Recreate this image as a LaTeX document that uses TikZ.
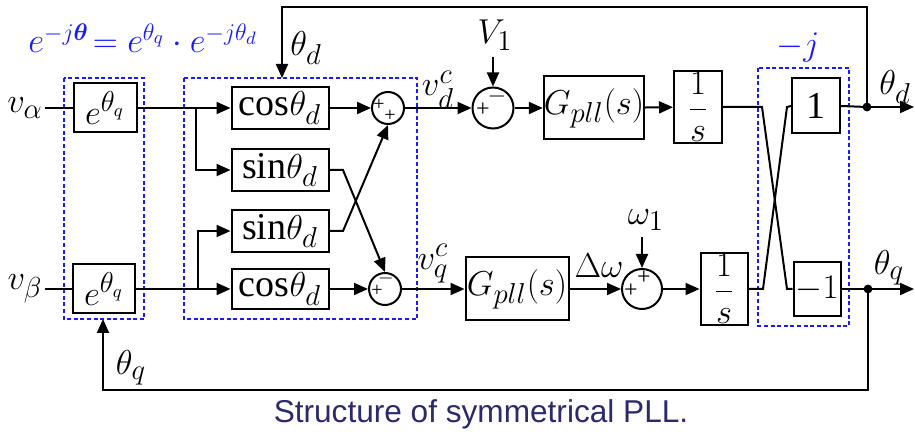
\documentclass[tikz,border=0pt]{standalone}
\usepackage{amsmath}
\usepackage{fontspec}
\setmainfont{Liberation Serif}
\newfontfamily\capfont{Liberation Sans}
\definecolor{pllBlue}{HTML}{1A1AFF}
\definecolor{pllNavy}{HTML}{2B2A6B}
\usetikzlibrary{arrows.meta, positioning, calc}

\begin{document}
\begin{tikzpicture}[
    x=0.5pt, y=-0.5pt,
    font=\fontsize{19}{22}\selectfont,
    block/.style={draw, line width=1pt, inner sep=0pt, align=center},
    sumnode/.style={circle, draw, line width=1pt, inner sep=0pt},
    sgn/.style={inner sep=0pt, font=\fontsize{12}{12}\selectfont},
    smallsgn/.style={sgn, font=\fontsize{10}{10}\selectfont},
    lbl/.style={inner sep=0pt},
    grp/.style={draw=pllBlue, line width=1.1pt, dash pattern=on 2pt off 1.3pt},
    arr/.style={-{Triangle[length=7pt,width=6pt]}, line width=1pt},
    wire/.style={line width=1pt},
  ]
  \useasboundingbox (0,0) rectangle (915,432);

  % dashed groups
  \draw[grp] (64,78) rectangle (144,319);
  \draw[grp] (184,78) rectangle (417,319);
  \draw[grp] (758,68) rectangle (849,326);

  % rotation blocks
  \node[block, minimum width=31.5pt, minimum height=24.5pt] (ea) at (105,108) {$e^{\theta_q}$};
  \node[block, minimum width=31pt, minimum height=24.5pt] (eb) at (104,289) {$e^{\theta_q}$};
  \node[block, minimum width=48.5pt, minimum height=21pt] (c1) at (280,108) {cos$\theta_d$};
  \node[block, minimum width=48.5pt, minimum height=21pt] (s1) at (280,170) {sin$\theta_d$};
  \node[block, minimum width=48.5pt, minimum height=21pt] (s2) at (280,231) {sin$\theta_d$};
  \node[block, minimum width=48.5pt, minimum height=20pt] (c2) at (280,289) {cos$\theta_d$};

  % summing points
  \node[sumnode, minimum size=16pt] (sa) at (388,108) {};
  \node[sumnode, minimum size=16pt] (sb) at (385,289) {};
  \node[sumnode, minimum size=20.5pt] (sc) at (493,108) {};
  \node[sumnode, minimum size=20pt] (sd) at (642,289) {};
  \node[smallsgn] (sa-p1) at (379,105) {+};
  \node[smallsgn] (sa-p2) at (390,116) {+};
  \node[smallsgn] (sb-p) at (377,291) {+};
  \node[smallsgn] (sb-m) at (386,279) {$-$};
  \node[sgn] (sc-p) at (483,110) {+};
  \node[sgn] (sc-m) at (497,97) {$-$};
  \node[sgn] (sd-p1) at (631,291) {+};
  \node[sgn] (sd-p2) at (644,278) {+};

  % loop filters and integrators
  \node[block, minimum width=50pt, minimum height=31.5pt] (ga) at (594,108) {$G_{pll}(s)$};
  \node[block, minimum width=51.5pt, minimum height=31.5pt] (gb) at (517,289) {$G_{pll}(s)$};
  \node[block, minimum width=24pt, minimum height=36pt] (ia) at (698,107) {$\dfrac{1}{s}$};
  \node[block, minimum width=23.5pt, minimum height=36pt] (ib) at (724,289) {$\dfrac{1}{s}$};
  \node[block, minimum width=24pt, minimum height=27.5pt] (one) at (816,106) {1};
  \node[block, minimum width=23.5pt, minimum height=27pt] (mone) at (817,289) {$-1$};

  % labels
  \node[inner sep=1pt] (va) at (25,108) {$v_\alpha$};
  \node[inner sep=1pt] (vb) at (25,289) {$v_\beta$};
  \node[lbl] (lvd) at (438,90) {$v_d^c$};
  \node[lbl] (lvq) at (433,264) {$v_q^c$};
  \node[lbl] (v1) at (495,35) {$V_1$};
  \node[lbl] (w1) at (646,220) {$\omega_1$};
  \node[lbl] (ldw) at (599,266) {$\Delta\omega$};
  \node[lbl] (ltd) at (306,48) {$\theta_d$};
  \node[lbl] (ltq) at (131,368) {$\theta_q$};
  \node[lbl] (otd) at (895,87) {$\theta_d$};
  \node[lbl] (otq) at (889,268) {$\theta_q$};
  \node[lbl, text=pllBlue] (lmj) at (798,48) {$-j$};
  \node[lbl, text=pllBlue, font=\fontsize{17.5}{20}\selectfont] (eqn) at (143,38) {$e^{-j\boldsymbol{\theta}}\! = e^{\theta_q}\cdot e^{-j\theta_d}$};
  \node[font=\capfont\fontsize{15.8}{18}\selectfont, text=pllNavy] (cap) at (481,414) {Structure of symmetrical PLL.};

  % helper points
  \coordinate (b1) at (196,108);
  \coordinate (b2) at (198,289);
  \coordinate (k1) at (343,170);
  \coordinate (k2) at (343,231);
  \coordinate (x1) at (762,107);
  \coordinate (x2) at (787,289);
  \coordinate (x3) at (763,289);
  \coordinate (x4) at (787,107);
  \coordinate (td) at (867,107);
  \coordinate (tq) at (868,289);
  \coordinate (outd) at (914,107);
  \coordinate (outq) at (914,289);
  \coordinate (fbtop) at (282,7);
  \coordinate (gin) at (282,78);
  \coordinate (fbbot) at (103,390);
  \coordinate (gqin) at (103,319);

  % alpha branch
  \draw[wire] (va.east) -- (ea.west);
  \draw[wire] (ea) -- (b1);
  \draw[arr] (b1) -- (c1);
  \draw[arr] (b1) |- (s1);
  % beta branch
  \draw[wire] (vb.east) -- (eb.west);
  \draw[wire] (eb) -- (b2);
  \draw[arr] (b2) -- (c2);
  \draw[arr] (b2) |- (s2);
  % cross coupling
  \draw[arr] (c1) -- (sa);
  \draw[arr] (c2) -- (sb);
  \draw[arr] (s1.east) -- (k1) -- (sb.north);
  \draw[arr] (s2.east) -- (k2) -- (sa.south);

  % d channel
  \draw[arr] (sa) -- (sc);
  \draw[arr] ([yshift=-3pt]v1.south -| sc.north) -- (sc.north);
  \draw[arr] (sc) -- (ga);
  \draw[arr] (ga) -- (ia);
  % q channel
  \draw[arr] (sb) -- (gb);
  \draw[arr] (gb) -- (sd);
  \draw[arr] ([yshift=-3pt]w1.south -| sd.north) -- (sd.north);
  \draw[arr] (sd) -- (ib);

  % -j swap
  \draw[wire] (ia.east) -- (x1) -- (x2) -- (mone.west);
  \draw[wire] (ib.east) -- (x3) -- (x4) -- (one.west);

  % outputs and feedback
  \draw[wire] (one.east) -- (td);
  \draw[arr] (td) -- (outd);
  \fill (td) circle (2.2pt);
  \draw[wire] (mone.east) -- (tq);
  \draw[arr] (tq) -- (outq);
  \fill (tq) circle (2.2pt);
  \draw[arr] (td) |- (fbtop) -- (gin);
  \draw[arr] (tq) |- (fbbot) -- (gqin);
\end{tikzpicture}
\end{document}
